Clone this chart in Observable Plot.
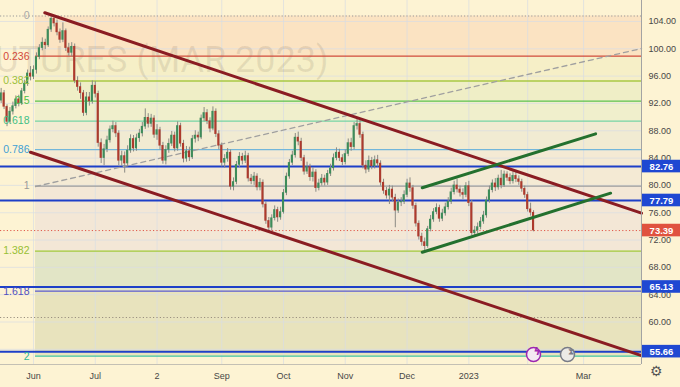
<!DOCTYPE html>
<html><head><meta charset="utf-8">
<script src="https://cdn.jsdelivr.net/npm/d3@7"></script>
<script src="https://cdn.jsdelivr.net/npm/@observablehq/plot@0.6"></script>
<style>
html,body{margin:0;padding:0;background:#fdf3d3;}
#chart svg{display:block;}
</style></head><body><div id="chart"></div>
<script>
// ---- candles (bar index 0 = 16 May 2022 ... 181 = 3 Feb 2023) ----
const opens = [92.4,93.5,91.5,89.3,90.8,91.6,92.6,92.0,93.8,94.9,
 96.4,95.9,96.9,98.8,100.1,100.9,100.5,102.8,104.4,103.7,
 102.4,101.3,102.6,100.1,99.4,100.3,95.3,94.4,93.5,90.6,
 92.9,92.3,94.6,93.4,86.2,84.0,85.3,86.6,88.2,88.7,
 87.6,83.6,84.3,83.2,85.1,86.8,85.4,86.9,87.6,88.6,
 89.9,89.0,89.8,87.4,88.1,85.8,83.6,85.2,86.1,87.3,
 85.4,88.7,86.1,83.9,85.0,84.1,86.8,87.3,87.0,89.8,
 90.6,89.4,88.3,90.8,87.5,85.8,83.3,83.9,84.8,79.8,
 80.5,83.0,84.2,83.6,84.3,81.0,80.6,81.3,79.7,80.4,
 77.2,74.8,73.8,75.2,76.4,75.3,76.1,78.9,81.3,83.3,
 84.4,87.0,86.4,84.0,82.0,82.7,81.2,81.9,79.6,80.3,
 81.0,80.4,81.7,82.5,84.0,84.8,84.0,83.4,84.6,86.2,
 85.6,88.7,89.0,87.4,82.9,82.3,83.6,82.8,83.7,83.2,
 80.4,79.2,78.5,79.4,78.2,76.3,77.5,77.6,78.6,80.3,
 79.6,77.0,74.4,72.5,71.7,71.1,73.6,75.0,76.1,76.7,
 75.1,75.9,76.8,77.6,79.0,80.0,79.4,78.9,78.6,79.9,
 77.4,73.0,73.4,73.9,74.7,75.6,77.8,79.3,80.3,79.7,
 81.0,80.0,81.6,81.1,80.6,81.4,80.9,80.5,79.5,78.6,
 76.5,76.0];
const highs = [94.2,93.9,91.8,91.4,92.2,93.1,93.2,94.2,95.4,96.9,
 97.4,97.5,99.4,100.6,101.6,101.4,103.2,104.8,104.8,104.2,
 102.9,103.8,102.9,100.8,100.9,100.7,95.9,95.0,93.9,93.6,
 93.6,95.3,95.2,93.8,86.8,86.0,87.2,88.7,89.4,89.2,
 88.0,85.0,84.9,85.8,87.4,87.3,87.5,88.2,89.2,91.2,
 90.5,90.4,90.2,88.9,88.5,86.3,85.8,86.8,87.9,87.8,
 89.3,89.1,86.6,85.7,85.6,87.3,88.0,87.8,90.3,91.4,
 91.1,89.9,91.5,91.2,88.0,86.2,84.5,85.4,85.2,81.1,
 83.5,84.8,84.7,85.0,84.7,81.6,81.9,81.7,81.0,80.8,
 77.6,75.3,75.7,77.0,76.8,76.8,79.4,81.8,83.8,85.0,
 87.6,87.8,86.9,84.4,83.4,83.1,82.6,82.3,80.9,81.6,
 81.5,82.2,83.1,84.6,85.5,85.3,84.5,85.2,86.8,86.9,
 89.2,89.8,89.5,87.8,83.6,84.3,84.1,84.3,84.4,83.6,
 80.9,79.7,80.0,79.9,78.7,78.0,78.2,79.2,80.9,81.1,
 80.0,77.4,74.8,73.0,72.3,74.0,75.6,76.6,77.3,77.1,
 76.5,77.4,78.2,79.6,80.6,80.9,79.9,79.5,80.4,80.6,
 77.8,74.0,74.5,75.3,76.2,78.3,79.9,80.8,81.0,81.5,
 82.2,82.1,82.0,81.7,82.0,81.9,81.4,80.9,79.9,79.0,
 77.4,76.3];
const lows = [92.0,91.1,88.6,89.0,90.3,91.2,91.5,91.7,93.4,94.5,
 95.3,95.5,96.3,98.4,99.7,99.9,100.2,102.4,103.2,101.9,
 100.8,100.9,99.6,98.9,98.8,94.9,93.8,92.6,90.1,90.2,
 91.6,91.9,92.8,85.6,83.2,82.9,84.8,86.2,87.7,87.0,
 82.9,82.8,81.8,82.7,84.7,84.9,85.0,86.3,87.1,88.2,
 88.4,88.5,86.9,86.6,85.2,83.1,83.0,84.7,85.7,84.9,
 85.0,85.6,83.3,83.4,83.5,83.8,86.2,86.4,86.7,89.3,
 88.9,87.7,88.0,87.0,85.2,82.7,82.5,83.4,79.3,79.2,
 80.1,82.6,83.0,83.2,80.5,80.1,80.0,79.2,79.2,76.7,
 74.3,73.2,73.3,74.8,74.6,74.9,75.8,78.5,80.9,82.9,
 84.0,85.8,83.5,81.5,81.6,80.6,80.5,79.0,79.2,79.9,
 79.9,80.0,81.3,82.1,83.6,83.5,82.9,83.0,84.2,85.0,
 85.2,88.1,86.9,82.4,81.7,81.9,82.3,82.4,82.7,79.9,
 78.7,78.0,77.2,77.6,73.8,75.9,76.9,77.2,78.2,79.0,
 76.5,73.9,72.0,71.1,70.4,70.8,73.2,74.6,75.7,74.6,
 74.7,75.5,76.4,77.2,78.6,78.9,78.3,77.9,78.2,76.9,
 72.6,72.5,72.9,73.5,74.3,75.2,77.4,78.9,79.1,79.3,
 79.5,79.7,80.6,80.1,80.2,80.4,80.0,79.0,78.1,76.1,
 75.5,73.2];
const closes = [93.5,91.5,89.3,90.8,91.6,92.6,92.0,93.8,94.9,96.4,
 95.9,96.9,98.8,100.1,100.9,100.5,102.8,104.4,103.7,102.4,
 101.3,102.6,100.1,99.4,100.3,95.3,94.4,93.5,90.6,92.9,
 92.3,94.6,93.4,86.2,84.0,85.3,86.6,88.2,88.7,87.6,
 83.6,84.3,83.2,85.1,86.8,85.4,86.9,87.6,88.6,89.9,
 89.0,89.8,87.4,88.1,85.8,83.6,85.2,86.1,87.3,85.4,
 88.7,86.1,83.9,85.0,84.1,86.8,87.3,87.0,89.8,90.6,
 89.4,88.3,90.8,87.5,85.8,83.3,83.9,84.8,79.8,80.5,
 83.0,84.2,83.6,84.3,81.0,80.6,81.3,79.7,80.4,77.2,
 74.8,73.8,75.2,76.4,75.3,76.1,78.9,81.3,83.3,84.4,
 87.0,86.4,84.0,82.0,82.7,81.2,81.9,79.6,80.3,81.0,
 80.4,81.7,82.5,84.0,84.8,84.0,83.4,84.6,86.2,85.6,
 88.7,89.0,87.4,82.9,82.3,83.6,82.8,83.7,83.2,80.4,
 79.2,78.5,79.4,78.2,76.3,77.5,77.6,78.6,80.3,79.6,
 77.0,74.4,72.5,71.7,71.1,73.6,75.0,76.1,76.7,75.1,
 75.9,76.8,77.6,79.0,80.0,79.4,78.9,78.6,79.9,77.4,
 73.0,73.4,73.9,74.7,75.6,77.8,79.3,80.3,79.7,81.0,
 80.0,81.6,81.1,80.6,81.4,80.9,80.5,79.5,78.6,76.5,
 76.0,73.39];

// ---- axis ticks ----
const priceTicks = [56,60,64,68,72,76,80,84,88,92,96,100,104];
const monthTickIdx = [11,32,53,75,96,117,138,159,198];
const monthLabels = ["Jun","Jul","2","Sep","Oct","Nov","Dec","2023","Mar"];
const gridIdx = [11,32,53,75,96,117,138,159,179,198];

// ---- Fibonacci retracement ----
const fibHigh = 104.8, fibLow = 79.9, fibStartIdx = 11.68;
const fibLevels = [0,0.236,0.382,0.5,0.618,0.786,1,1.382,1.618,2];
const fibLabels = ["0","0.236","0.382","0.5","0.618","0.786","1","1.382","1.618","2"];
const fibLineColors = ["#a0a0a0","#d2493a","#a9c943","#5cc24c","#74d4a4","#72b6da","#9b9b9b","#a3c83c","#5a5ad0","#3fc3a0"];
const fibLabelColors = ["#a8a8a8","#d2493a","#9cc038","#4fbf45","#3fbf85","#3f9fd3","#9a9a9a","#98c034","#5050c0","#2fb895"];
const fibBandFills = ["#fbe3c2","#f6efc7","#efeec6","#f0efcc","#f1ebd2","#f4ead4","#f3e7d6","#e2e5c6","#e8e3bd"];

// ---- horizontal levels and price tags ----
const blueLevels = [82.76, 77.79, 65.13, 55.66];
const lastClose = 73.39;
const dottedGreyLevel = 60.66;
const tagValues = [82.76, 77.79, 73.39, 65.13, 55.66];
const tagColors = ["#1f48d2","#1f48d2","#e0523f","#1f48d2","#1f48d2"];

// ---- trend lines (bar index, price) ----
const upperChannel = [{i:14.84,p:105.27},{i:217.7,p:75.93}];
const lowerChannel = [{i:9.98,p:84.86},{i:217.7,p:55.09}];
const fibTrend = [{i:11.68,p:79.84},{i:217.7,p:100.04}];
const greenUpper = [{i:143.17,p:79.65},{i:202.1,p:87.55}];
const greenLower = [{i:143.17,p:70.22},{i:207.2,p:78.86}];

// ---- layout ----
const W = 680, H = 387, mR = 39, mB = 23;
const xDomain = [-0.22, 217.7];
const yDomain = [53.78, 107.07];
const pxPerBar = (W - mR) / (xDomain[1] - xDomain[0]);
const pxPerUnit = (H - mB) / (yDomain[1] - yDomain[0]);
const xEnd = xDomain[1];

const fibPrice = l => fibHigh - l * (fibHigh - fibLow);
const fibs = fibLevels.map((l, k) => ({l, p: fibPrice(l), label: fibLabels[k], line: fibLineColors[k], lab: fibLabelColors[k]}));
const bands = fibBandFills.map((f, k) => ({y1: fibPrice(fibLevels[k]), y2: fibPrice(fibLevels[k+1]), fill: f}));
const candles = closes.map((c, i) => ({i, o: opens[i], h: highs[i], l: lows[i], c}));
const tags = tagValues.map((v, k) => ({v, color: tagColors[k]}));
const tagHalf = 6.3 / pxPerUnit;
const UP = "#3d8c5a", DOWN = "#ad3a2d";

const chart = Plot.plot({
  width: W, height: H,
  marginLeft: 0, marginRight: mR, marginTop: 0, marginBottom: mB,
  style: {background: "#fdf3d3", fontFamily: "'Liberation Sans', Arial, sans-serif", color: "#474747"},
  x: {domain: xDomain, axis: null},
  y: {domain: yDomain, axis: null},
  marks: [
    // fib bands
    Plot.rect(bands, {x1: fibStartIdx, x2: xEnd, y1: "y1", y2: "y2", fill: "fill"}),
    // grid
    Plot.ruleX(gridIdx, {stroke: "#d9dde3", strokeOpacity: 0.7}),
    Plot.ruleY(priceTicks, {stroke: "#d9dde3", strokeOpacity: 0.7}),
    // watermark
    Plot.text(["FUTURES (MAR 2023)"], {frameAnchor: "top-left", dx: 328, dy: 46, textAnchor: "end", fontSize: 36, fontFamily: "Roboto", fill: "#5a4a3a", fillOpacity: 0.12}),
    // fib lines
    Plot.ruleY(fibs.filter(d => d.l !== 0), {y: "p", x1: fibStartIdx, x2: xEnd, stroke: "line", strokeWidth: 1.3}),
    Plot.ruleY([fibPrice(0)], {stroke: "#9a9a9a", strokeDasharray: "1.2,2", strokeWidth: 1.2}),
    // dotted level lines
    Plot.ruleY([lastClose], {stroke: "#e0584a", strokeDasharray: "1.2,2.2", strokeWidth: 1}),
    Plot.ruleY([dottedGreyLevel], {stroke: "#9a9080", strokeDasharray: "1.2,2.2", strokeWidth: 1}),
    // blue horizontal levels
    Plot.ruleY(blueLevels, {stroke: "#1d3fc8", strokeWidth: 2}),
    // fib dashed trend
    Plot.line(fibTrend, {x: "i", y: "p", stroke: "#a0a0a0", strokeDasharray: "5,4", strokeWidth: 1.3}),
    // candles
    Plot.ruleX(candles, {x: "i", y1: "l", y2: "h", stroke: "#8a8a84", strokeWidth: 1}),
    Plot.rect(candles, {x1: d => d.i - 0.36, x2: d => d.i + 0.36, y1: d => Math.min(d.o, d.c) - 0.04, y2: d => Math.max(d.o, d.c) + 0.04, fill: d => d.c >= d.o ? UP : DOWN}),
    // trend lines
    Plot.line(upperChannel, {x: "i", y: "p", stroke: "#8a1c22", strokeWidth: 3}),
    Plot.line(lowerChannel, {x: "i", y: "p", stroke: "#8a1c22", strokeWidth: 3}),
    Plot.line(greenUpper, {x: "i", y: "p", stroke: "#23702e", strokeWidth: 3}),
    Plot.line(greenLower, {x: "i", y: "p", stroke: "#23702e", strokeWidth: 3}),
    // fib labels
    Plot.text(fibs, {x: fibStartIdx, y: "p", text: "label", fill: "lab", textAnchor: "end", dx: -6, fontSize: 10.5}),
    // frame lines
    Plot.ruleX([xEnd], {stroke: "#a3a3a3", strokeWidth: 1}),
    Plot.ruleY([yDomain[0]], {stroke: "#c4c0b4", strokeWidth: 1}),
    // axes
    Plot.axisY({anchor: "right", ticks: priceTicks, tickFormat: d => d.toFixed(2), tickSize: 0, tickPadding: 7, fontSize: 9, label: null}),
    Plot.axisX({anchor: "bottom", ticks: monthTickIdx, tickFormat: d => monthLabels[monthTickIdx.indexOf(d)], tickSize: 0, tickPadding: 8, fontSize: 9, label: null}),
    // price tags
    Plot.rect(tags, {x1: xEnd, x2: xEnd + mR / pxPerBar, y1: d => d.v - tagHalf, y2: d => d.v + tagHalf, fill: "color", insetLeft: 1}),
    Plot.text(tags, {x: xEnd, dx: 20, y: "v", text: d => d.v.toFixed(2), fill: "white", fontSize: 9.5, fontWeight: "bold"}),
    // chart icons
    Plot.dot([0], {frameAnchor: "bottom-left", dx: 533, dy: -10, r: 7, fill: "#f4e9f2", stroke: "#9c27b0", strokeWidth: 1.5}),
    Plot.text(["ϟ"], {frameAnchor: "bottom-left", dx: 533, dy: -10, fill: "#9c27b0", fontSize: 11, fontWeight: "bold", fontFamily: "DejaVu Sans"}),
    Plot.dot([0], {frameAnchor: "bottom-left", dx: 567, dy: -10, r: 7, fill: "#eceae6", stroke: "#787b86", strokeWidth: 1.5}),
    Plot.text(["⧗"], {frameAnchor: "bottom-left", dx: 567, dy: -10, fill: "#787b86", fontSize: 9, fontFamily: "DejaVu Sans"}),
    Plot.text(["⚙"], {frameAnchor: "bottom-right", dx: 21, dy: 11, fill: "#555", fontSize: 14, fontFamily: "DejaVu Sans"})
  ]
});
document.getElementById("chart").appendChild(chart);
</script>
</body></html>
